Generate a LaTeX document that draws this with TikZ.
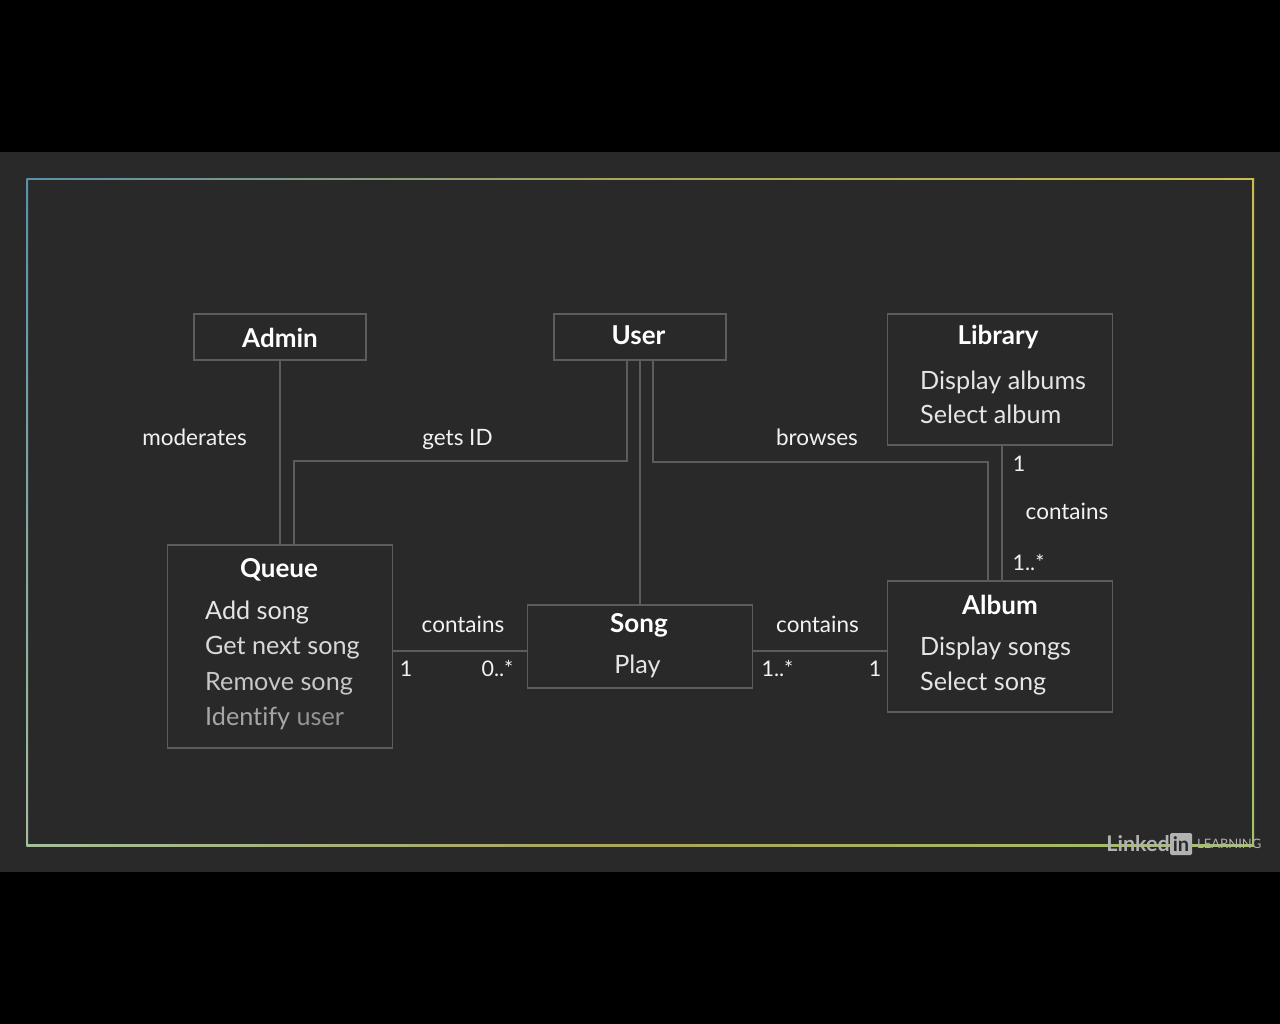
\documentclass[tikz,border=0pt]{standalone}
\usepackage{fontspec}
\setmainfont{Lato}[Ligatures=CommonOff]
\usetikzlibrary{calc}
\definecolor{backdrop}{RGB}{41, 41, 41}
\definecolor{boxline}{RGB}{92, 92, 92}
\definecolor{framelu}{RGB}{90, 145, 170}
\definecolor{frameru}{RGB}{200, 190, 80}
\definecolor{framerd}{RGB}{165, 195, 105}
\definecolor{framemid}{RGB}{170, 165, 90}
\definecolor{frameld}{RGB}{165, 190, 155}
\definecolor{logogray}{RGB}{178, 178, 178}
\tikzset{
    classbox/.style={draw=boxline, line width=1.6pt, minimum width=#1, inner sep=0pt},
    title/.style={font=\fontsize{26}{26}\selectfont\bfseries, text=white, inner sep=0pt},
    method/.style={font=\fontsize{25.2}{26}\selectfont, text=#1, anchor=base west, inner sep=0pt},
    method/.default={white!90!black},
    label/.style={font=\fontsize{22.5}{24}\selectfont, text=white!95!black, anchor=base, inner sep=0pt},
    count/.style={label, font=\fontsize{21.5}{24}\selectfont},
    link/.style={draw=boxline, line width=1.6pt},
}
\begin{document}
\begin{tikzpicture}[x=1pt, y=-1pt]

    \useasboundingbox (0,0) rectangle (1280,1024);
    \fill[black] (0,0) rectangle (1280,1024);
    \fill[backdrop] (0,152) rectangle (1280,872);

    % frame
    \shade[left color=framelu, right color=framemid] (26.5,178.5) rectangle (640,180);
    \shade[left color=framemid, right color=frameru] (640,178.5) rectangle (1254,180);
    \shade[top color=frameru, bottom color=framerd] (1252.7,178.5) rectangle (1254.2,846);
    \shade[left color=frameld, right color=framemid] (26.5,844.8) rectangle (640,846.3);
    \shade[left color=framemid, right color=framerd] (640,844.8) rectangle (1254.2,846.3);
    \shade[top color=framelu, bottom color=frameld] (26.5,178.5) rectangle (28,846.3);

    % boxes
    \node[classbox=172pt, minimum height=46pt] (admin) at (280,337) {};
    \node[classbox=172pt, minimum height=46pt] (user) at (640,337) {};
    \node[classbox=225pt, minimum height=131pt] (library) at (1000,379.5) {};
    \node[classbox=225pt, minimum height=203pt] (queue) at (280,646.5) {};
    \node[classbox=225pt, minimum height=83pt] (song) at (640,646.5) {};
    \node[classbox=225pt, minimum height=131pt] (album) at (1000,646.5) {};

    % connectors
    \draw[link] (admin.south) -- (queue.north);
    \draw[link] (user.south) -- (song.north);
    \draw[link] ($(user.south)+(-13,0)$) |- (294,461) -- ($(queue.north)+(14,0)$);
    \draw[link] ($(user.south)+(13,0)$) |- (988,462) -- ($(album.north)+(-12,0)$);
    \draw[link] ($(library.south)+(2,0)$) -- ($(album.north)+(2,0)$);
    \draw[link] (queue.east |- 0,651) -- (song.west |- 0,651);
    \draw[link] (song.east |- 0,651) -- (album.west |- 0,651);

    % titles
    \node[title] (admintitle) at (280,338) {Admin};
    \node[title] (usertitle) at (638.5,335) {User};
    \node[title] (librarytitle) at (998,337) {Library};
    \node[title] (queuetitle) at (279,570) {Queue};
    \node[title] (songtitle) at (639,625) {Song};
    \node[title] (albumtitle) at (1000,605) {Album};

    % methods
    \node[method] (displayalbums) at (920,389) {Display albums};
    \node[method] (selectalbum) at (920,423) {Select album};
    \node[method] (addsong) at (205,619) {Add song};
    \node[method=white!85!black] (getnext) at (205,654) {Get next song};
    \node[method=white!78!black] (removesong) at (205,690) {Remove song};
    \node[method=white!65!black] (identify) at (205,725) {Identify \textcolor{white!58!black}{user}};
    \node[method, anchor=base] (play) at (637.5,673) {Play};
    \node[method] (displaysongs) at (920,655) {Display songs};
    \node[method] (selectsong) at (920,690) {Select song};

    % association labels
    \node[label] (moderates) at (194.5,445) {moderates};
    \node[label] (getsid) at (457.5,445) {gets ID};
    \node[label] (browses) at (817,445) {browses};
    \node[label] (libcontains) at (1067,519) {contains};
    \node[label] (queuecontains) at (463,632) {contains};
    \node[label] (songcontains) at (817.5,632) {contains};
    \node[count] (libone) at (1019,471) {1};
    \node[count] (albummany) at (1028.5,570) {1..*};
    \node[count] (queueone) at (406,676) {1};
    \node[count] (songmany) at (497.5,676) {0..*};
    \node[count] (songmanyb) at (777.5,676) {1..*};
    \node[count] (albumone) at (875,676) {1};

    % logo
    \node[font=\fontsize{21.5}{21}\selectfont\bfseries, text=logogray, anchor=base east, inner sep=0pt] (linked) at (1170,851) {Linked};
    \node[fill=logogray, text=backdrop, font=\fontsize{20}{20}\selectfont\bfseries, rounded corners=1.5pt, minimum width=22pt, minimum height=22pt, inner sep=0pt] (inbox) at (1181,844) {in};
    \node[font=\fontsize{13}{13}\selectfont, text=logogray, anchor=base west, inner sep=0pt] (learning) at (1197,848.5) {LEARNING};

\end{tikzpicture}
\end{document}
